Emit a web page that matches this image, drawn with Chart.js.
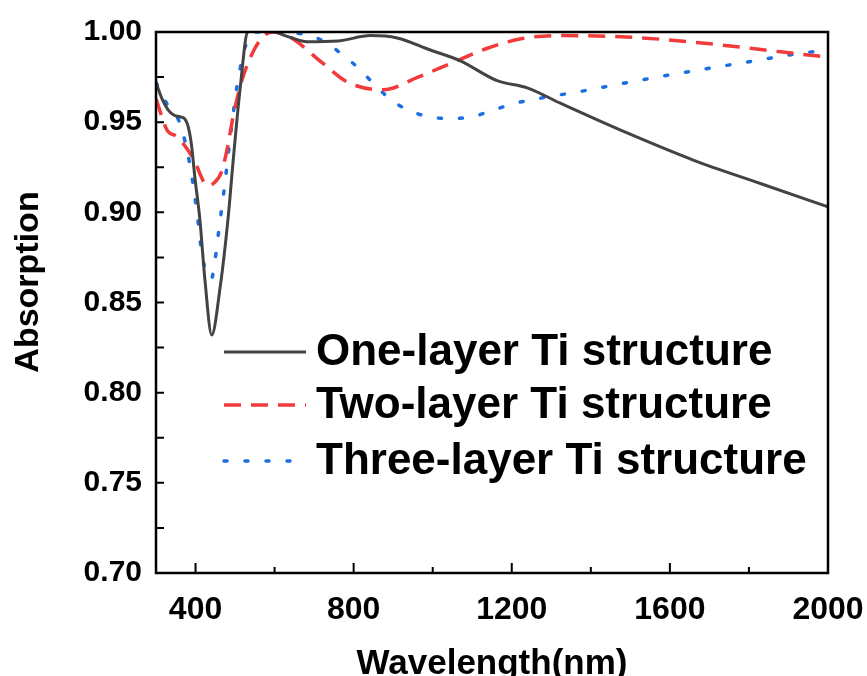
<!DOCTYPE html>
<html>
<head>
<meta charset="utf-8">
<script src="https://cdn.jsdelivr.net/npm/chart.js@4.4.1/dist/chart.umd.min.js"></script>
<style>
  html, body { margin: 0; padding: 0; background: #fff; }
  #wrap { width: 867px; height: 676px; position: relative; }
</style>
</head>
<body>
<div id="wrap"><canvas id="absChart"></canvas></div>
<script>
// wavelength (nm) and absorption for each structure
const oneLayerNm  = [300, 315, 330, 345, 360, 372, 382, 390, 398, 411, 424, 441, 462, 482, 497, 513, 532, 560, 600, 640, 682, 760, 842, 910, 994, 1070, 1163, 1239, 1323, 1492, 1659, 1829, 2000];
const oneLayerAbs = [0.972, 0.963, 0.957, 0.954, 0.953, 0.952, 0.947, 0.937, 0.920, 0.896, 0.862, 0.832, 0.858, 0.896, 0.933, 0.969, 1.000, 1.001, 1.000, 0.997, 0.9946, 0.995, 0.998, 0.9967, 0.990, 0.984, 0.973, 0.969, 0.9605, 0.944, 0.929, 0.916, 0.903];

const twoLayerNm  = [300, 328, 353, 394, 430, 445, 465, 480, 495, 520, 563, 597, 640, 720, 786, 875, 963, 1050, 1138, 1230, 1323, 1508, 1695, 1880, 2000];
const twoLayerAbs = [0.963, 0.9456, 0.942, 0.930, 0.915, 0.916, 0.922, 0.935, 0.953, 0.975, 0.9955, 1.000, 0.997, 0.983, 0.972, 0.968, 0.975, 0.983, 0.991, 0.9965, 0.998, 0.997, 0.9936, 0.989, 0.986];

const threeLayerNm  = [300, 328, 361, 386, 403, 416, 429, 440, 449, 460, 472, 487, 505, 530, 560, 670, 723, 774, 817, 854, 897, 938, 990, 1044, 1100, 1153, 1209, 1265, 1318, 1373, 1483, 1594, 1703, 1813, 1924, 2000];
const threeLayerAbs = [0.972, 0.960, 0.949, 0.926, 0.901, 0.877, 0.866, 0.863, 0.873, 0.892, 0.912, 0.940, 0.970, 0.9945, 1.000, 0.999, 0.995, 0.987, 0.979, 0.9705, 0.962, 0.9567, 0.953, 0.952, 0.953, 0.9567, 0.9605, 0.963, 0.965, 0.967, 0.9716, 0.976, 0.980, 0.984, 0.988, 0.990];

const seriesLabels = ["One-layer Ti structure", "Two-layer Ti structure", "Three-layer Ti structure"];
const xTickValues = [400, 800, 1200, 1600, 2000];
const xMinorValues = [600, 1000, 1400, 1800];
const yTickValues = [0.70, 0.75, 0.80, 0.85, 0.90, 0.95, 1.00];
const yMinorValues = [0.725, 0.775, 0.825, 0.875, 0.925, 0.975];

const FONT = "'Liberation Sans', Arial, sans-serif";

function pairs(xs, ys) {
    return xs.map((x, i) => ({ x: x, y: ys[i] }));
}

// frame, inward ticks, y title and the in-plot legend
const framePlugin = {
    id: "frame",
    afterDatasetsDraw(chart) {
        const ctx = chart.ctx;
        const a = chart.chartArea;
        const xs = chart.scales.x;
        const ys = chart.scales.y;
        ctx.save();
        ctx.strokeStyle = "#000";
        ctx.lineWidth = 2.5;
        ctx.strokeRect(a.left, a.top, a.right - a.left, a.bottom - a.top);

        ctx.lineWidth = 2;
        ctx.beginPath();
        xTickValues.forEach(v => {
            let p = xs.getPixelForValue(v);
            ctx.moveTo(p, a.bottom); ctx.lineTo(p, a.bottom - 10);
        });
        xMinorValues.forEach(v => {
            let p = xs.getPixelForValue(v);
            ctx.moveTo(p, a.bottom); ctx.lineTo(p, a.bottom - 6);
        });
        yTickValues.concat(yMinorValues).forEach(v => {
            let p = ys.getPixelForValue(v);
            ctx.moveTo(a.left, p); ctx.lineTo(a.left + 8, p);
        });
        ctx.stroke();

        // y axis title
        ctx.fillStyle = "#000";
        ctx.font = "bold 34px " + FONT;
        ctx.textAlign = "center";
        ctx.textBaseline = "middle";
        ctx.translate(29, 282);
        ctx.rotate(-Math.PI / 2);
        ctx.fillText("Absorption", 0, 0);
        ctx.restore();

        // legend
        ctx.save();
        const rows = [352, 405, 461];
        chart.data.datasets.forEach((ds, i) => {
            ctx.strokeStyle = ds.borderColor;
            ctx.lineWidth = ds.borderWidth;
            ctx.lineCap = ds.borderCapStyle || "butt";
            ctx.setLineDash(ds.borderDash || []);
            ctx.beginPath();
            ctx.moveTo(224, rows[i]);
            ctx.lineTo(306, rows[i]);
            ctx.stroke();
            ctx.setLineDash([]);
            ctx.fillStyle = "#000";
            ctx.font = "bold 44px " + FONT;
            ctx.textAlign = "left";
            ctx.textBaseline = "middle";
            ctx.fillText(ds.label, 316, rows[i] + 1);
        });
        ctx.restore();
    }
};

new Chart(document.getElementById("absChart"), {
    type: "line",
    data: {
        datasets: [{
            label: seriesLabels[0],
            data: pairs(oneLayerNm, oneLayerAbs),
            borderColor: "#434343",
            borderWidth: 3,
            pointRadius: 0,
            cubicInterpolationMode: "monotone"
        }, {
            label: seriesLabels[1],
            data: pairs(twoLayerNm, twoLayerAbs),
            borderColor: "#f23a3a",
            borderWidth: 3.5,
            borderDash: [17, 10],
            pointRadius: 0,
            cubicInterpolationMode: "monotone"
        }, {
            label: seriesLabels[2],
            data: pairs(threeLayerNm, threeLayerAbs),
            borderColor: "#1c6fe0",
            borderWidth: 3.5,
            borderDash: [3, 18],
            borderCapStyle: "round",
            pointRadius: 0,
            cubicInterpolationMode: "monotone"
        }]
    },
    options: {
        responsive: true,
        maintainAspectRatio: false,
        animation: false,
        layout: { padding: { top: 32, right: 39, left: 0, bottom: 0 } },
        plugins: {
            legend: { display: false },
            tooltip: { enabled: false }
        },
        scales: {
            x: {
                type: "linear",
                min: 300,
                max: 2000,
                afterBuildTicks: s => { s.ticks = xTickValues.map(v => ({ value: v })); },
                afterFit: s => { s.height = 103; s.paddingLeft = 0; s.paddingRight = 0; },
                grid: { display: false, drawTicks: false },
                border: { display: false },
                ticks: {
                    color: "#000",
                    padding: 18,
                    maxRotation: 0,
                    autoSkip: false,
                    callback: v => String(v),
                    font: { family: FONT, size: 32, weight: "bold" }
                },
                title: {
                    display: true,
                    text: "Wavelength(nm)",
                    color: "#000",
                    padding: { top: 18, bottom: -9 },
                    font: { family: FONT, size: 35, weight: "bold" }
                }
            },
            y: {
                min: 0.70,
                max: 1.00,
                afterBuildTicks: s => { s.ticks = yTickValues.map(v => ({ value: v })); },
                afterFit: s => { s.width = 156; s.paddingTop = 0; s.paddingBottom = 0; },
                grid: { display: false, drawTicks: false },
                border: { display: false },
                ticks: {
                    color: "#000",
                    padding: 14,
                    callback: v => v.toFixed(2),
                    font: { family: FONT, size: 30, weight: "bold" }
                }
            }
        }
    },
    plugins: [framePlugin]
});
</script>
</body>
</html>
